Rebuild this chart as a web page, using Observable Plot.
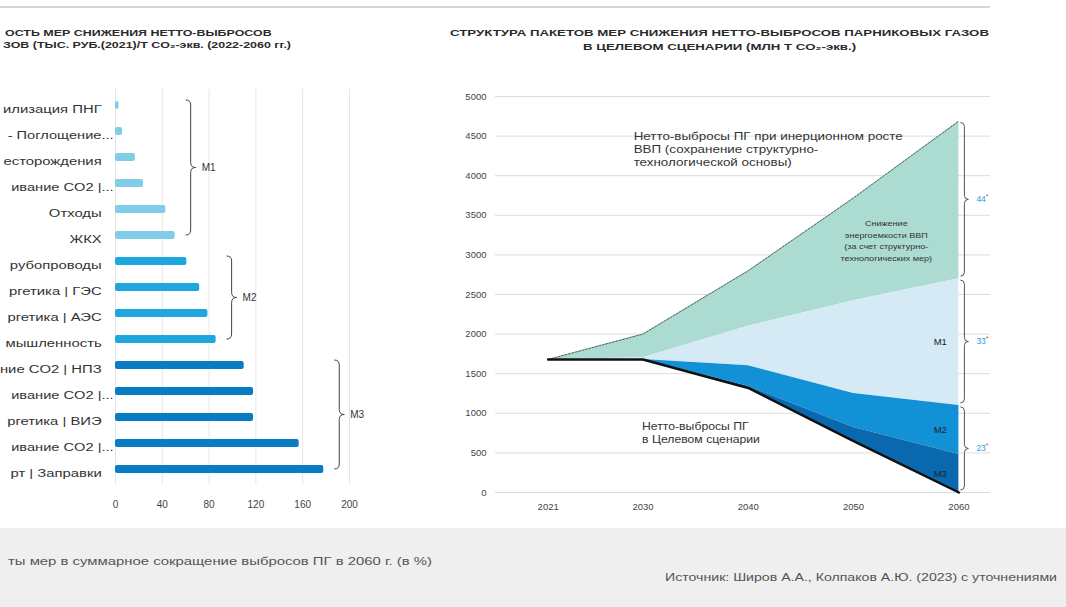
<!DOCTYPE html>
<html>
<head>
<meta charset="utf-8">
<script src="https://cdn.jsdelivr.net/npm/d3@7"></script>
<script src="https://cdn.jsdelivr.net/npm/@observablehq/plot@0.6"></script>
<style>
  body { margin: 0; background: #fff; }
  #page { position: relative; width: 1066px; height: 607px; overflow: hidden; background: #fff;
          font-family: "Liberation Sans", Arial, sans-serif; color: #333; }
  .rule { position: absolute; left: 0; top: 6px; width: 990px; height: 2px; background: #d6d6d6; }
  .title { position: absolute; font-weight: bold; font-size: 9.5px; color: #2a2a2a; white-space: nowrap; line-height: 1; transform-origin: 0 0; }
  #foot { position: absolute; left: 0; top: 528px; width: 1066px; height: 79px; background: #efefef; }
  .cap { position: absolute; font-size: 10.5px; color: #555; white-space: nowrap; line-height: 1; transform-origin: 0 0; }
  #left { position: absolute; left: 0; top: 85px; }
  #right { position: absolute; left: 440px; top: 80px; }
</style>
</head>
<body>
<div id="page">
  <div class="rule"></div>
  <div class="title" id="tl1">ОСТЬ МЕР СНИЖЕНИЯ НЕТТО-ВЫБРОСОВ</div>
  <div class="title" id="tl2">ЗОВ (ТЫС. РУБ.(2021)/Т CO₂-экв. (2022-2060 гг.)</div>
  <div class="title" id="tr1">СТРУКТУРА ПАКЕТОВ МЕР СНИЖЕНИЯ НЕТТО-ВЫБРОСОВ ПАРНИКОВЫХ ГАЗОВ</div>
  <div class="title" id="tr2">В ЦЕЛЕВОМ СЦЕНАРИИ (МЛН Т CO₂-экв.)</div>
  <div id="foot"></div>
  <div class="cap" id="cap1">ты мер в суммарное сокращение выбросов ПГ в 2060 г. (в %)</div>
  <div class="cap" id="cap2">Источник: Широв А.А., Колпаков А.Ю. (2023) с уточнениями</div>
  <div id="left"></div>
  <div id="right"></div>
</div>
<script>
// ---------- data: left chart (cost of measures) ----------
const costLabels = ["илизация ПНГ", "- Поглощение...", "есторождения", "ивание CO2 |...", "Отходы", "ЖКХ",
  "рубопроводы", "ргетика | ГЭС", "ргетика | АЭС", "мышленность",
  "ние CO2 | НПЗ", "ивание CO2 |...", "ргетика | ВИЭ", "ивание CO2 |...", "рт | Заправки"];
const costValues = [3, 6, 17, 24, 43, 51, 61, 72, 79, 86, 110, 118, 118, 157, 178];
const costGroups = ["М1", "М1", "М1", "М1", "М1", "М1", "М2", "М2", "М2", "М2", "М3", "М3", "М3", "М3", "М3"];
const costTicks = [0, 40, 80, 120, 160, 200];
const groupNames = ["М1", "М2", "М3"];
const groupColors = ["#80cdea", "#1ea6de", "#0a7cc4"];

// ---------- data: right chart (structure of packages) ----------
const years = [2021, 2030, 2040, 2050, 2060];
const inertial = [1680, 2000, 2800, 3720, 4690];
const m1Top = [1680, 1700, 2100, 2420, 2700];
const m2Top = [1680, 1680, 1600, 1250, 1100];
const m3Top = [1680, 1680, 1340, 820, 480];
const target = [1680, 1680, 1320, 650, 0];
const valueTicks = [0, 500, 1000, 1500, 2000, 2500, 3000, 3500, 4000, 4500, 5000];
const shareLabels = ["44", "33", "23"];
const noteInertial = "Нетто-выбросы ПГ при инерционном росте\nВВП (сохранение структурно-\nтехнологической основы)";
const noteIntensity = "Снижение\nэнергоемкости ВВП\n(за счет структурно-\nтехнологических мер)";
const noteTarget = "Нетто-выбросы ПГ\nв Целевом сценарии";

// ---------- helpers ----------
function bracePath(x, y1, y2, w) {
  const h = w / 2, m = (y1 + y2) / 2, r = Math.min(h, Math.abs(y2 - y1) / 4);
  return `M${x},${y1}Q${x + h},${y1} ${x + h},${y1 + r}L${x + h},${m - r}Q${x + h},${m} ${x + w},${m}` +
         `Q${x + h},${m} ${x + h},${m + r}L${x + h},${y2 - r}Q${x + h},${y2} ${x},${y2}`;
}
function place(id, left, top) {
  const el = document.getElementById(id);
  el.style.left = left + "px"; el.style.top = top + "px";
  return el;
}
function naturalWidth(id) { return document.getElementById(id).getBoundingClientRect().width; }
function stretchEl(id, k) { document.getElementById(id).style.transform = `scaleX(${k})`; }
// the n-th text mark group of a plot
function textGroup(svg, n) { return svg.querySelectorAll('g[aria-label="text"]')[n]; }
// wrap a group and stretch it horizontally about anchorX
function stretchGroup(g, anchorX, k) {
  if (!g) return;
  const wrap = document.createElementNS("http://www.w3.org/2000/svg", "g");
  g.parentNode.insertBefore(wrap, g);
  wrap.appendChild(g);
  wrap.setAttribute("transform", `translate(${anchorX},0) scale(${k},1) translate(${-anchorX},0)`);
}
function groupWidth(g) { return g ? g.getBBox().width : 1; }

// ---------- left chart ----------
const costRows = costValues.map((value, i) => ({i, value, label: costLabels[i], group: costGroups[i],
  color: groupColors[groupNames.indexOf(costGroups[i])]}));

const costBraces = (index, scales) => {
  const g = d3.create("svg:g");
  const bw = scales.y.bandwidth ? scales.y.bandwidth() : 0;
  for (const grp of groupNames) {
    const members = costRows.filter(d => d.group === grp);
    const first = d3.min(members, d => d.i), last = d3.max(members, d => d.i);
    const x = scales.x(d3.max(members, d => d.value)) + 11;
    const y1 = scales.y(first) + bw / 2 - 5, y2 = scales.y(last) + bw / 2;
    g.append("path").attr("d", bracePath(x, y1, y2, 10)).attr("fill", "none").attr("stroke", "#444").attr("stroke-width", 1);
    g.append("text").attr("x", x + 16).attr("y", (y1 + y2) / 2).attr("dy", "0.35em")
      .attr("text-anchor", "start").attr("font-size", 10).attr("fill", "#333").text(grp);
  }
  return g.node();
};

const left = Plot.plot({
  width: 380, height: 440,
  marginLeft: 115, marginRight: 31, marginTop: 4, marginBottom: 41,
  style: {fontFamily: "Liberation Sans, Arial, sans-serif", fontSize: "10px", color: "#444", background: "transparent", overflow: "visible"},
  x: {domain: [0, 200], ticks: costTicks, label: null},
  y: {type: "band", domain: d3.range(costValues.length), padding: 0, axis: null},
  color: {type: "identity"},
  marks: [
    Plot.gridX(costTicks, {stroke: "#e6e6e6", strokeOpacity: 1}),
    Plot.barX(costRows, {x: "value", y: "i", fill: "color", insetTop: 9, insetBottom: 9, rx: 2}),
    Plot.axisX({ticks: costTicks, tickSize: 0, tickPadding: 16, fontSize: 10, label: null}),
    Plot.text(costRows.filter(d => !d.label.endsWith("...")), {x: 0, y: "i", text: "label", textAnchor: "end", dx: -14, dy: 4, fontSize: 11, fill: "#333"}),
    Plot.text(costRows.filter(d => d.label.endsWith("...")), {x: 0, y: "i", text: "label", textAnchor: "end", dx: -2, dy: 4, fontSize: 11, fill: "#333"}),
    costBraces
  ]
});
document.getElementById("left").append(left);
{
  const x0 = left.scale("x").apply(0);
  stretchGroup(textGroup(left, 1), x0 - 2, 1.33);
  stretchGroup(textGroup(left, 0), x0 - 14, 1.35);
}

// ---------- right chart ----------
const rows = years.map((year, i) => ({year, inertial: inertial[i], m1Top: m1Top[i], m2Top: m2Top[i], m3Top: m3Top[i], target: target[i]}));
const lastRow = rows[rows.length - 1];
const packLabels = [
  {name: "М1", value: (lastRow.m1Top + lastRow.m2Top) / 2},
  {name: "М2", value: (lastRow.m2Top + lastRow.m3Top) / 2},
  {name: "М3", value: (lastRow.m3Top + lastRow.target) / 2}
];

const shareBraces = (index, scales) => {
  const g = d3.create("svg:g");
  const bounds = [lastRow.inertial, lastRow.m1Top, lastRow.m2Top, lastRow.target];
  const x = scales.x(lastRow.year) + 2;
  for (let k = 0; k < 3; k++) {
    const y1 = scales.y(bounds[k]) + 2, y2 = scales.y(bounds[k + 1]) - 2;
    g.append("path").attr("d", bracePath(x, y1, y2, 8)).attr("fill", "none").attr("stroke", "#555").attr("stroke-width", 1);
    const t = g.append("text").attr("x", x + 16).attr("y", (y1 + y2) / 2).attr("dy", "0.35em")
      .attr("text-anchor", "start").attr("font-size", 8.5);
    t.append("tspan").attr("fill", "#2b9bd7").text(shareLabels[k]);
    t.append("tspan").attr("fill", "#e04a5f").attr("dy", -3).attr("font-size", 7).text("*");
  }
  return g.node();
};

const notePos = {inertial: [2029.1, 4343], intensity: [2053.1, 3190], target: [2029.9, 764]};

const right = Plot.plot({
  width: 600, height: 450,
  marginLeft: 55, marginRight: 50, marginTop: 16, marginBottom: 38,
  style: {fontFamily: "Liberation Sans, Arial, sans-serif", fontSize: "9.5px", color: "#444", background: "transparent"},
  x: {domain: [2016, 2063], label: null},
  y: {domain: [0, 5000], label: null},
  marks: [
    Plot.gridY(valueTicks, {stroke: "#dcdcdc", strokeOpacity: 1}),
    Plot.areaY(rows, {x: "year", y1: "m1Top", y2: "inertial", fill: "#acdbd2"}),
    Plot.areaY(rows, {x: "year", y1: "m2Top", y2: "m1Top", fill: "#d5eaf5"}),
    Plot.areaY(rows, {x: "year", y1: "m3Top", y2: "m2Top", fill: "#1391d6"}),
    Plot.areaY(rows, {x: "year", y1: "target", y2: "m3Top", fill: "#0a68ae"}),
    Plot.line(rows, {x: "year", y: "inertial", stroke: "#56625f", strokeWidth: 1, strokeDasharray: "2,1.5"}),
    Plot.line(rows, {x: "year", y: "target", stroke: "#111", strokeWidth: 2.5}),
    Plot.axisX({ticks: years, tickFormat: d => String(d), tickSize: 0, tickPadding: 11, label: null}),
    Plot.axisY({ticks: valueTicks, tickFormat: d => String(d), tickSize: 0, tickPadding: 9, label: null}),
    Plot.text([noteInertial], {x: notePos.inertial[0], y: notePos.inertial[1], text: d => d, textAnchor: "start", lineAnchor: "middle", fontSize: 10, lineHeight: 1.3, fill: "#333"}),
    Plot.text([noteIntensity], {x: notePos.intensity[0], y: notePos.intensity[1], text: d => d, textAnchor: "middle", lineAnchor: "middle", fontSize: 8, lineHeight: 1.45, fill: "#333"}),
    Plot.text([noteTarget], {x: notePos.target[0], y: notePos.target[1], text: d => d, textAnchor: "start", lineAnchor: "middle", fontSize: 10, lineHeight: 1.3, fill: "#333"}),
    Plot.text(packLabels, {x: () => lastRow.year, y: "value", text: "name", textAnchor: "end", dx: -12, fontSize: 9.5, fill: "#222"}),
    shareBraces
  ]
});
document.getElementById("right").append(right);
{
  const xs = right.scale("x");
  const gi = textGroup(right, 0), gs = textGroup(right, 1), gt = textGroup(right, 2);
  const ki = 270 / groupWidth(gi), ks = 92 / groupWidth(gs), kt = 118 / groupWidth(gt);
  stretchGroup(gi, xs.apply(notePos.inertial[0]), ki);
  stretchGroup(gs, xs.apply(notePos.intensity[0]), ks);
  stretchGroup(gt, xs.apply(notePos.target[0]), kt);
}

// ---------- titles and captions ----------
place("tl1", 5, 28); place("tl2", 3, 40);
{
  const k = 288 / naturalWidth("tl2");
  stretchEl("tl1", k); stretchEl("tl2", k);
}
{
  const k = 539 / naturalWidth("tr1");
  const w2 = naturalWidth("tr2") * k;
  place("tr1", 450, 28); place("tr2", 719.5 - w2 / 2, 42);
  stretchEl("tr1", k); stretchEl("tr2", k);
}
place("cap1", 8, 556); stretchEl("cap1", 424 / naturalWidth("cap1"));
place("cap2", 665, 572); stretchEl("cap2", 392 / naturalWidth("cap2"));
</script>
</body>
</html>
